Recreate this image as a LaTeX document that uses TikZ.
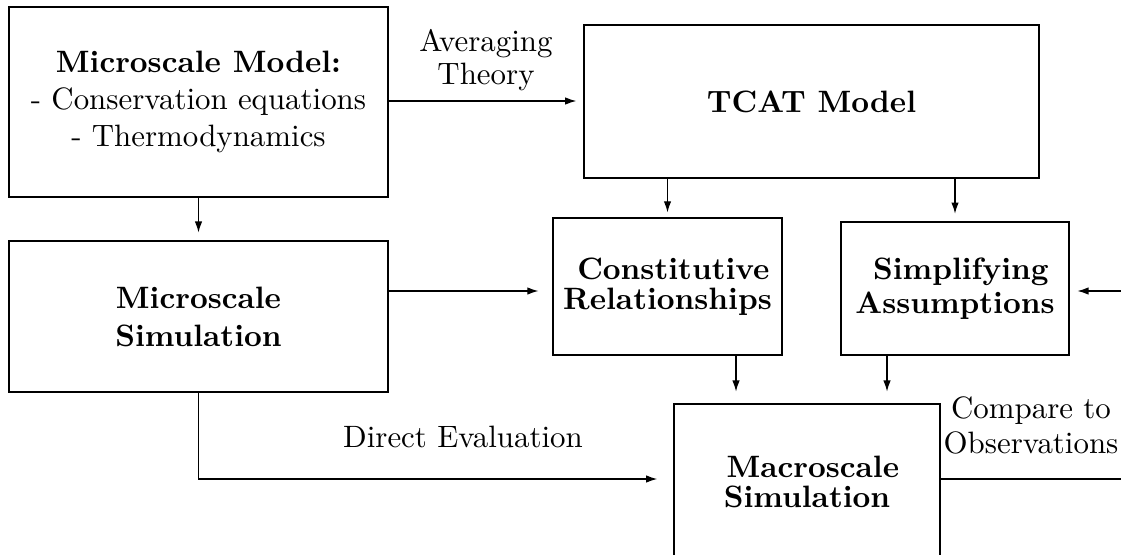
\documentclass[tikz,border=0pt]{standalone}
\usetikzlibrary{arrows.meta}
\begin{document}
\begin{tikzpicture}[x=0.3236pt,y=-0.3236pt,
  box/.style={draw, rectangle, inner sep=0pt, align=center},
  bold/.style={font={\fontsize{10pt}{#1}\selectfont\bfseries}},
  conn/.style={-{Latex[length=3.6pt,width=2.4pt]}},
  lbl/.style={inner sep=0pt, align=center}]
\useasboundingbox (0,0) rectangle (1121,554);
\clip (0,0) rectangle (1121,554);

% boxes
\node[box, minimum width=122.65pt, minimum height=61.5pt] (micro) at (198.5,102)
  {\textbf{Microscale Model:}\\- Conservation equations\\- Thermodynamics};
\node[box, bold=15pt, minimum width=147.2pt, minimum height=49.5pt] (tcat) at (811.5,101.5)
  {TCAT Model};
\node[box, bold=12.3pt, minimum width=122.65pt, minimum height=48.9pt] (msim) at (198.5,316.5)
  {Microscale\\Simulation};
\node[box, bold=9.7pt, minimum width=74.1pt, minimum height=44.3pt] (const) at (667.5,286.5)
  {\hspace*{3.8pt}Constitutive\\Relationships};
\node[box, bold=11pt, minimum width=73.8pt, minimum height=43pt] (simp) at (955,288.5)
  {\hspace*{3.8pt}Simplifying\\Assumptions};
\node[box, bold=9.7pt, minimum width=86.1pt, minimum height=50.5pt] (macro) at (807,482)
  {\hspace*{3.8pt}Macroscale\\Simulation};

% free ends at the right border
\coordinate (inR) at (1130,291);
\coordinate (outR) at (1130,479);

% connectors
\draw[conn, shorten >=2.3pt] (micro.east |- 0,101) -- (tcat.west |- 0,101)
  node[midway, above, lbl, inner sep=3pt, font=\fontsize{10pt}{10.7pt}\selectfont] (avg) {Averaging\\Theory};
\draw[conn, shorten >=2.5pt] (micro.south) -- (msim.north);
\draw[conn, shorten >=1.6pt] (const.north |- tcat.south) -- (const.north);
\draw[conn, shorten >=2.5pt] (simp.north |- tcat.south) -- (simp.north);
\draw[conn, shorten >=4.5pt] (msim.east |- 0,291) -- (const.west |- 0,291);
\draw[conn, shorten >=2.5pt] (inR) -- (simp.east |- inR);
\draw[conn, shorten >=3.8pt] (const.south -| 736,0) -- (macro.north -| 736,0);
\draw[conn, shorten >=3.8pt] (simp.south -| 887,0) -- (macro.north -| 887,0);
\draw[conn, shorten >=5.2pt] (msim.south) -- (msim.south |- 0,479) -- (macro.west |- 0,479);
\draw (macro.east |- outR) -- (outR);

% labels
\node[lbl, anchor=base] (direct) at (463,447) {Direct Evaluation};
\node[lbl, anchor=south, font=\fontsize{10pt}{11.3pt}\selectfont] (compare) at (1031,455)
  {Compare to\\Observations};
\end{tikzpicture}
\end{document}
